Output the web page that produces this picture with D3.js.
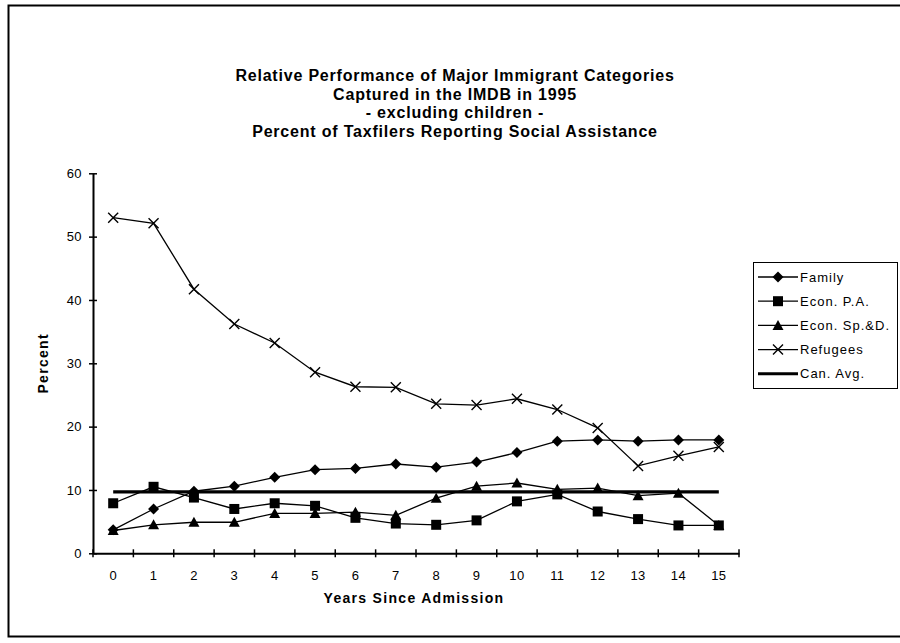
<!DOCTYPE html>
<html>
<head>
<meta charset="utf-8">
<script src="https://cdn.jsdelivr.net/npm/d3@7"></script>
<style>
  html, body { margin: 0; padding: 0; background: #fff; }
  svg { display: block; font-family: "Liberation Sans", Arial, sans-serif; }
</style>
</head>
<body>
<svg id="chart" width="900" height="643"></svg>
<script>
// Years since admission (category axis)
const years = ["0","1","2","3","4","5","6","7","8","9","10","11","12","13","14","15"];
const yTicks = [0, 10, 20, 30, 40, 50, 60];

// Percent of taxfilers reporting social assistance, by immigrant category
const family    = [3.7, 7.0, 9.8, 10.6, 12.0, 13.2, 13.4, 14.1, 13.6, 14.4, 15.9, 17.7, 17.9, 17.7, 17.9, 17.9];
const econPA    = [7.9, 10.5, 8.8, 7.0, 7.9, 7.5, 5.6, 4.7, 4.5, 5.2, 8.2, 9.3, 6.6, 5.4, 4.4, 4.4];
const econSpD   = [3.6, 4.5, 4.9, 4.9, 6.3, 6.3, 6.5, 6.0, 8.7, 10.6, 11.1, 10.1, 10.3, 9.1, 9.5, 4.4];
const refugees  = [53.0, 52.1, 41.7, 36.2, 33.2, 28.6, 26.3, 26.2, 23.6, 23.4, 24.4, 22.7, 19.8, 13.8, 15.4, 16.8];
const canAvg    = [9.7, 9.7, 9.7, 9.7, 9.7, 9.7, 9.7, 9.7, 9.7, 9.7, 9.7, 9.7, 9.7, 9.7, 9.7, 9.7];

const seriesNames = ["Family", "Econ. P.A.", "Econ. Sp.&D.", "Refugees", "Can. Avg."];
const seriesValues = [family, econPA, econSpD, refugees, canAvg];
const seriesMarkers = ["diamond", "square", "triangle", "cross", "none"];

const titleLines = [
  "Relative Performance of Major Immigrant Categories",
  "Captured in the IMDB in 1995",
  "- excluding children -",
  "Percent of Taxfilers Reporting Social Assistance"
];

const svg = d3.select("#chart");

// outer frame
svg.append("rect")
  .attr("x", 8.5).attr("y", 5.5)
  .attr("width", 900).attr("height", 631)
  .attr("fill", "none").attr("stroke", "#000").attr("stroke-width", 2);

// plot area
const plot = { left: 93, right: 739, top: 173.3, bottom: 553.3 };

const x = d3.scaleBand().domain(years).range([plot.left, plot.right]).padding(0);
const y = d3.scaleLinear().domain([0, 60]).range([plot.bottom, plot.top]);
const cx = d => x(d) + x.bandwidth() / 2;

// title
const title = svg.append("text")
  .attr("text-anchor", "middle")
  .attr("font-weight", "bold")
  .attr("font-size", 16)
  .attr("letter-spacing", 0.8);
titleLines.forEach((t, i) => {
  title.append("tspan").attr("x", 455).attr("y", 81 + i * 18.5).text(t);
});

// y axis
const yAxis = d3.axisLeft(y).tickValues(yTicks).tickSizeInner(4).tickSizeOuter(0).tickPadding(7);
const gy = svg.append("g").attr("transform", `translate(${plot.left},0)`).call(yAxis);
gy.select(".domain").attr("stroke-width", 2);
gy.selectAll(".tick line").attr("x2", 4).attr("x1", -4).attr("stroke-width", 1.5);
gy.selectAll(".tick text").attr("font-size", 13).attr("letter-spacing", 0.4)
  .attr("font-family", "Liberation Sans, Arial, sans-serif").attr("fill", "#000");

// x axis: ticks between categories
const xAxis = d3.axisBottom(x).tickSize(0).tickPadding(17);
const gx = svg.append("g").attr("transform", `translate(0,${plot.bottom})`).call(xAxis);
gx.select(".domain").attr("stroke-width", 2);
gx.selectAll(".tick text").attr("font-size", 13).attr("letter-spacing", 0.4)
  .attr("font-family", "Liberation Sans, Arial, sans-serif").attr("fill", "#000");
const boundaries = years.map(d => x(d)).concat([x(years[years.length - 1]) + x.bandwidth()]);
gx.selectAll("line.sep").data(boundaries).enter().append("line")
  .attr("class", "sep")
  .attr("x1", d => d).attr("x2", d => d)
  .attr("y1", -4).attr("y2", 4)
  .attr("stroke", "#000").attr("stroke-width", 1.5);

// axis titles
svg.append("text")
  .attr("x", 414).attr("y", 603)
  .attr("text-anchor", "middle").attr("font-weight", "bold").attr("font-size", 14)
  .attr("letter-spacing", 1.3)
  .text("Years Since Admission");
svg.append("text")
  .attr("transform", `translate(48,${(plot.top + plot.bottom) / 2}) rotate(-90)`)
  .attr("text-anchor", "middle").attr("font-weight", "bold").attr("font-size", 14)
  .attr("letter-spacing", 1.3)
  .text("Percent");

// marker drawing helper
function drawMarker(g, type, px, py) {
  if (type === "diamond") {
    g.append("path").attr("d", `M${px},${py - 5.5}L${px + 5.5},${py}L${px},${py + 5.5}L${px - 5.5},${py}Z`).attr("fill", "#000");
  } else if (type === "square") {
    g.append("rect").attr("x", px - 5).attr("y", py - 5).attr("width", 10).attr("height", 10).attr("fill", "#000");
  } else if (type === "triangle") {
    g.append("path").attr("d", `M${px},${py - 5.5}L${px + 5.5},${py + 4.5}L${px - 5.5},${py + 4.5}Z`).attr("fill", "#000");
  } else if (type === "cross") {
    g.append("path").attr("d", `M${px - 5},${py - 5}L${px + 5},${py + 5}M${px - 5},${py + 5}L${px + 5},${py - 5}`)
      .attr("stroke", "#000").attr("stroke-width", 1.4).attr("fill", "none");
  }
}

// series
const line = d3.line().x((d, i) => cx(years[i])).y(d => y(d));
seriesValues.forEach((vals, si) => {
  const g = svg.append("g");
  const isAvg = seriesMarkers[si] === "none";
  g.append("path").datum(vals)
    .attr("d", line)
    .attr("fill", "none")
    .attr("stroke", "#000")
    .attr("stroke-width", isAvg ? 3.2 : 1.3);
  vals.forEach((v, i) => drawMarker(g, seriesMarkers[si], cx(years[i]), y(v)));
});

// legend
const lg = svg.append("g");
lg.append("rect").attr("x", 753.5).attr("y", 262.5).attr("width", 144).attr("height", 126)
  .attr("fill", "#fff").attr("stroke", "#000").attr("stroke-width", 1);
seriesNames.forEach((name, i) => {
  const ly = 277 + i * 24.2;
  lg.append("line").attr("x1", 758).attr("x2", 798).attr("y1", ly).attr("y2", ly)
    .attr("stroke", "#000").attr("stroke-width", seriesMarkers[i] === "none" ? 3 : 1.3);
  drawMarker(lg, seriesMarkers[i], 778, ly);
  lg.append("text").attr("x", 800).attr("y", ly + 4.5).attr("font-size", 13)
    .attr("letter-spacing", 1.0).text(name);
});
</script>
</body>
</html>
